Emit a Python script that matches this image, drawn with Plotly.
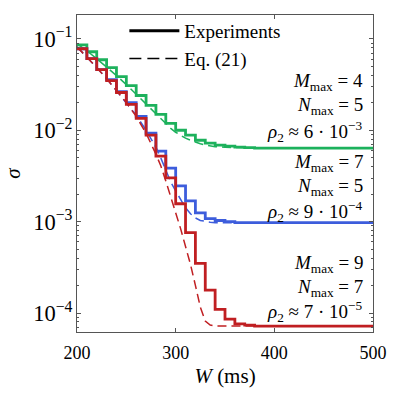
import plotly.graph_objects as go

# measured sigma (stairs, 10 ms bins)
W_exp = [200, 210, 220, 230, 240, 250, 260, 270, 280, 290, 300, 310, 320, 330, 340, 350,
         360, 370, 380, 390, 400, 410, 420, 430, 440, 450, 460, 470, 480, 490, 500]
sig_exp_4_5 = [0.0861, 0.0723, 0.0591, 0.0484, 0.0387, 0.0308, 0.0240, 0.0187, 0.0149, 0.0119,
               0.0100, 0.00883, 0.00778, 0.00722, 0.00687, 0.00670, 0.00653, 0.00645, 0.00637,
               0.00637, 0.00637, 0.00637, 0.00637, 0.00637, 0.00637, 0.00637, 0.00637, 0.00637,
               0.00637, 0.00637, 0.00637]
sig_exp_7_5 = [0.0779, 0.0607, 0.0460, 0.0358, 0.0265, 0.0201, 0.0142, 0.00927, 0.00591, 0.00386,
               0.00246, 0.00169, 0.00125, 0.00108, 0.00103, 0.00100, 0.000975, 0.000975, 0.000975,
               0.000975, 0.000975, 0.000975, 0.000975, 0.000975, 0.000975, 0.000975, 0.000975,
               0.000975, 0.000975, 0.000975, 0.000975]
sig_exp_9_7 = [0.0779, 0.0607, 0.0460, 0.0349, 0.0259, 0.0192, 0.0135, 0.00883, 0.00521, 0.00301,
               0.00157, 7.59e-4, 3.49e-4, 1.78e-4, 1.10e-4, 8.6e-5, 7.6e-5, 7.4e-5, 7.2e-5,
               7.2e-5, 7.2e-5, 7.2e-5, 7.2e-5, 7.2e-5, 7.2e-5, 7.2e-5, 7.2e-5, 7.2e-5, 7.2e-5,
               7.2e-5, 7.2e-5]

# Eq. (21)
W_eq = [200, 210, 220, 230, 240, 250, 260, 270, 280, 285, 290, 295, 300, 305, 310, 315,
        320, 325, 330, 335, 340, 350, 360, 380, 400, 450, 500]
sig_eq_4_5 = [0.0883, 0.0741, 0.0607, 0.0496, 0.0396, 0.0316, 0.0246, 0.0192, 0.0149, 0.0132,
              0.0116, 0.0105, 0.00951, 0.00883, 0.00819, 0.00778, 0.00741, 0.00713, 0.00687,
              0.00670, 0.00662, 0.00653, 0.00645, 0.00637, 0.00637, 0.00637, 0.00637]
sig_eq_7_5 = [0.0818, 0.0637, 0.0484, 0.0367, 0.0272, 0.0201, 0.0146, 0.0100, 0.00653, 0.00496,
              0.00358, 0.00272, 0.00217, 0.00173, 0.00142, 0.00122, 0.00110, 0.00103, 0.00100,
              0.000988, 0.000975, 0.000975, 0.000975, 0.000975, 0.000975, 0.000975, 0.000975]
sig_eq_9_7 = [0.0818, 0.0637, 0.0484, 0.0367, 0.0272, 0.0201, 0.0142, 0.00927, 0.00548, 0.00406,
              0.00279, 0.00182, 0.00125, 8.39e-4, 5.48e-4, 3.41e-4, 2.01e-4, 1.16e-4, 8.18e-5,
              7.41e-5, 7.23e-5, 7.23e-5, 7.23e-5, 7.23e-5, 7.23e-5, 7.23e-5, 7.23e-5]

labels_4_5 = ["<i>M</i><sub>max</sub> = 4", "<i>N</i><sub>max</sub> = 5",
              "<i>ρ</i><sub>2</sub> ≈ 6 · 10<sup>−3</sup>"]
labels_7_5 = ["<i>M</i><sub>max</sub> = 7", "<i>N</i><sub>max</sub> = 5",
              "<i>ρ</i><sub>2</sub> ≈ 9 · 10<sup>−4</sup>"]
labels_9_7 = ["<i>M</i><sub>max</sub> = 9", "<i>N</i><sub>max</sub> = 7",
              "<i>ρ</i><sub>2</sub> ≈ 7 · 10<sup>−5</sup>"]

GREEN = '#1db15c'
BLUE = '#3d5ddc'
RED = '#c01f22'
FONT = 'Liberation Serif'

fig = go.Figure()

for sig_exp, sig_eq, col in [(sig_exp_4_5, sig_eq_4_5, GREEN),
                             (sig_exp_7_5, sig_eq_7_5, BLUE),
                             (sig_exp_9_7, sig_eq_9_7, RED)]:
    fig.add_trace(go.Scatter(x=W_exp, y=sig_exp, mode='lines', line_shape='hv',
                             line=dict(color=col, width=2.8), showlegend=False))
    fig.add_trace(go.Scatter(x=W_eq, y=sig_eq, mode='lines',
                             line=dict(color=col, width=1.5, dash='9px,5px'), showlegend=False))

# legend entries (black)
fig.add_trace(go.Scatter(x=[None], y=[None], mode='lines', name='Experiments',
                         line=dict(color='black', width=3)))
fig.add_trace(go.Scatter(x=[None], y=[None], mode='lines', name='Eq. (21)',
                         line=dict(color='black', width=1.5, dash='12px,6px')))

# annotation rows (pixel y of each text row, converted to paper coords)
top, bottom = 13, 332
rows = [(labels_4_5, [80, 105, 130]), (labels_7_5, [162, 186, 211]), (labels_9_7, [264, 288, 311])]
for labels, ys in rows:
    for txt, py in zip(labels, ys):
        fig.add_annotation(text=txt, xref='paper', yref='paper', x=0.973,
                           y=1 - (py - top) / (bottom - top), xanchor='right', yanchor='middle',
                           showarrow=False, font=dict(size=19, color='black', family=FONT))

axis_common = dict(showline=True, linecolor='#555', linewidth=1, mirror='allticks',
                   ticks='inside', tickcolor='#555', showgrid=False, zeroline=False,
                   tickfont=dict(size=18, color='black', family=FONT))

fig.update_xaxes(range=[200, 500], tickvals=[200, 300, 400, 500], ticklen=4,
                 ticklabelstandoff=4,
                 title=dict(text='<i>W</i> (ms)', font=dict(size=21, color='black', family=FONT),
                            standoff=6),
                 **axis_common)
fig.update_yaxes(type='log', range=[-4.207, -0.739], dtick=1, exponentformat='power',
                 ticklen=4, minor=dict(ticks='inside', ticklen=2, tickcolor='#555', dtick='D1'),
                 title=dict(text='<i>σ</i>', font=dict(size=21, color='black', family=FONT),
                            standoff=6),
                 **axis_common)

fig.update_layout(
    width=399, height=395,
    margin=dict(l=69, r=15, t=13, b=63),
    plot_bgcolor='white', paper_bgcolor='white',
    font=dict(family=FONT),
    legend=dict(x=0.16, y=1.01, xanchor='left', yanchor='top', bgcolor='rgba(0,0,0,0)',
                font=dict(size=19, color='black', family=FONT), itemwidth=50,
                tracegroupgap=0),
)

# page body has a default 8px margin; drop it so the figure sits at the window origin
fig.write_html("out.html", config={'displayModeBar': False},
               post_script="document.body.style.margin='0';")
